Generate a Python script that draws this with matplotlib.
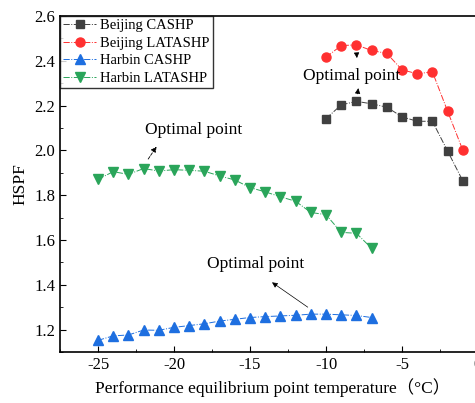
import numpy as np
import matplotlib
matplotlib.use('Agg')
from matplotlib import pyplot as plt
from matplotlib.ticker import MultipleLocator

plt.rcParams['font.family'] = ['Liberation Serif', 'Noto Sans CJK SC']
plt.rcParams['axes.unicode_minus'] = False

# Beijing
bj_x = [-10, -9, -8, -7, -6, -5, -4, -3, -2, -1]
bj_cashp = [2.142, 2.203, 2.219, 2.208, 2.193, 2.150, 2.130, 2.130, 1.997, 1.864]
bj_latashp = [2.416, 2.468, 2.471, 2.446, 2.433, 2.360, 2.342, 2.351, 2.175, 2.001]

# Harbin
hb_x = [-25, -24, -23, -22, -21, -20, -19, -18, -17, -16, -15, -14, -13, -12, -11, -10, -9, -8, -7]
hb_cashp = [1.152, 1.172, 1.176, 1.198, 1.197, 1.210, 1.218, 1.226, 1.238, 1.246, 1.254,
            1.258, 1.261, 1.264, 1.269, 1.269, 1.266, 1.263, 1.254]
hb_latashp = [1.871, 1.905, 1.893, 1.919, 1.908, 1.914, 1.911, 1.907, 1.886, 1.868, 1.834,
              1.815, 1.793, 1.773, 1.723, 1.713, 1.634, 1.630, 1.563]

fig = plt.figure(figsize=(4.75, 4.03), dpi=100)
ax = fig.add_axes([60/475, 51/403, 425.6/475, 336/403])

ax.plot(bj_x, bj_cashp, 's', ls='-.', lw=0.7, color='#404040', ms=5.5, label='Beijing CASHP')
ax.plot(bj_x, bj_latashp, 'o', ls='-.', lw=0.7, color='#ff3030', ms=6.5, label='Beijing LATASHP')
ax.plot(hb_x, hb_cashp, '^', ls='-.', lw=0.7, color='#1e6fe0', ms=6.5, label='Harbin CASHP')
ax.plot(hb_x, hb_latashp, 'v', ls='-.', lw=0.7, color='#2aa55a', ms=6.5, label='Harbin LATASHP')

ax.set_xlim(-27.5, 0.5)
ax.set_ylim(1.1, 2.6)
ax.xaxis.set_major_locator(MultipleLocator(5))
ax.xaxis.set_minor_locator(MultipleLocator(2.5))
ax.yaxis.set_major_locator(MultipleLocator(0.2))
ax.yaxis.set_minor_locator(MultipleLocator(0.1))
ax.yaxis.set_major_formatter(matplotlib.ticker.FormatStrFormatter('%.1f'))
ax.tick_params(which='both', direction='in', labelsize=12)
ax.tick_params(which='major', length=4)
ax.tick_params(which='minor', length=2.5)
for s in ax.spines.values():
    s.set_linewidth(1.2)

ax.set_xlabel('Performance equilibrium point temperature（°C）', fontsize=12.5)
ax.set_ylabel('HSPF', fontsize=12.5)

arrow_dash = dict(arrowstyle='-|>', color='black', lw=0.6, ls='--', mutation_scale=8)
arrow_solid = dict(arrowstyle='-|>', color='black', lw=0.5, mutation_scale=8)
ax.annotate('', xy=(-21.05, 2.027), xytext=(-21.8, 1.951), arrowprops=arrow_dash)
ax.text(-21.9, 2.093, 'Optimal point', fontsize=12.5, va='center')
ax.annotate('', xy=(-13.7, 1.418), xytext=(-11.05, 1.293), arrowprops=arrow_solid)
ax.text(-17.85, 1.493, 'Optimal point', fontsize=12.5, va='center')
ax.annotate('', xy=(-7.95, 2.40), xytext=(-8.0, 2.445), arrowprops=arrow_solid)
ax.annotate('', xy=(-7.85, 2.29), xytext=(-7.95, 2.24), arrowprops=arrow_solid)
ax.text(-11.5, 2.33, 'Optimal point', fontsize=12.5, va='center')

leg = ax.legend(loc='upper left', fontsize=10.5, frameon=True, fancybox=False,
                borderaxespad=0, handlelength=2.3, handletextpad=0.25,
                labelspacing=0.3, borderpad=0.2)
leg.get_frame().set_edgecolor('black')
leg.get_frame().set_linewidth(1.0)

fig.savefig('out.png', dpi=100)
